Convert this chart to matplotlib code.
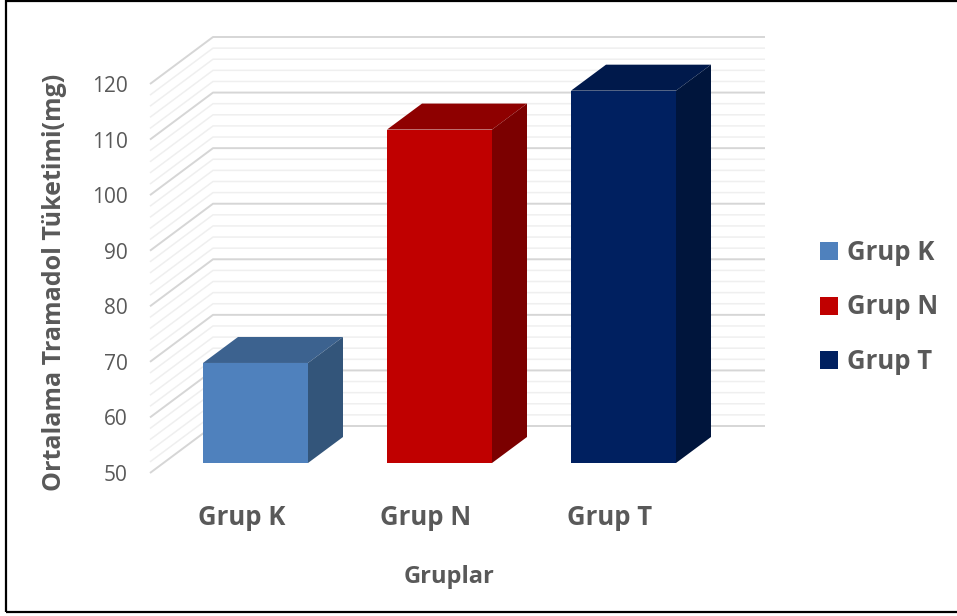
import numpy as np
import matplotlib.pyplot as plt
from matplotlib.patches import Polygon, Rectangle, Patch

plt.rcParams['font.family'] = ['Open Sans', 'DejaVu Sans']

## data
groups = ['Grup K', 'Grup N', 'Grup T']
tramadol = [68, 110, 117]
yticks = [50, 60, 70, 80, 90, 100, 110, 120]

## colours (front, top, side)
front_c = ['#4F81BD', '#C00000', '#002060']
top_c = ['#3C628F', '#8E0000', '#00194B']
side_c = ['#33557A', '#7B0000', '#00153C']
text_c = '#595959'

W, H = 957, 616
fig = plt.figure(figsize=(W / 100, H / 100), dpi=100)
ax_l, ax_r, ax_b, ax_t = 150, 702, 473, 84
ax = fig.add_axes([ax_l / W, (H - ax_b) / H, (ax_r - ax_l) / W, (ax_b - ax_t) / H])
ax.set_xlim(-0.5, 2.5)
ax.set_ylim(50, 120)

# pixel -> data units, used for the fake 3d depth
px_x = 3 / (ax_r - ax_l)
px_y = 70 / (ax_b - ax_t)
wall_dx, wall_dy = 63 * px_x, 47 * px_y
bar_fx, bar_fy = 13.5 * px_x, 10 * px_y
bar_dx, bar_dy = 35 * px_x, 26 * px_y
bar_w = 105 * px_x

# side wall + back wall gridlines, every 2 units
for v in range(50, 121, 2):
    major = v % 10 == 0
    col = '#D6D6D6' if major else '#EFEFEF'
    lw = 1.4 if major else 1.1
    ax.plot([-0.5, -0.5 + wall_dx, 2.5 + wall_dx], [v, v + wall_dy, v + wall_dy],
            color=col, lw=lw, clip_on=False, zorder=1 if not major else 1.5,
            solid_capstyle='butt')

# bars: front face, top and side
xs = np.arange(len(groups)) + bar_fx
base = 50 + bar_fy
for i, val in enumerate(tramadol):
    top = val + bar_fy
    ax.bar(xs[i], val - 50, bottom=base, width=bar_w, color=front_c[i],
           zorder=3, clip_on=False, label=groups[i])
    xl, xr = xs[i] - bar_w / 2, xs[i] + bar_w / 2
    ax.add_patch(Polygon([(xl, top), (xr, top), (xr + bar_dx, top + bar_dy),
                          (xl + bar_dx, top + bar_dy)], closed=True,
                         facecolor=top_c[i], edgecolor='none', zorder=3, clip_on=False))
    ax.add_patch(Polygon([(xr, base), (xr + bar_dx, base + bar_dy),
                          (xr + bar_dx, top + bar_dy), (xr, top)], closed=True,
                         facecolor=side_c[i], edgecolor='none', zorder=3, clip_on=False))

for s in ax.spines.values():
    s.set_visible(False)
ax.set_yticks(yticks)
ax.set_yticklabels([str(t) for t in yticks], fontsize=15, color=text_c)
ax.set_xticks(range(len(groups)))
ax.set_xticklabels(groups, fontsize=18.5, fontweight='bold', color=text_c)
ax.tick_params(axis='y', length=0, pad=16)
ax.tick_params(axis='x', length=0, pad=22)

fig.text(55 / W, 1 - 282 / H, 'Ortalama Tramadol Tüketimi(mg)', rotation=90,
         ha='center', va='center', fontsize=18, fontweight='bold', color=text_c)
fig.text(449 / W, 1 - 577 / H, 'Gruplar', ha='center', va='center',
         fontsize=17, fontweight='bold', color=text_c)

handles = [Patch(facecolor=c) for c in front_c]
leg = fig.legend(handles, groups, loc='center left', bbox_to_anchor=(797 / W, 1 - 307 / H),
                 frameon=False, fontsize=18.5, handlelength=0.7, handleheight=0.7,
                 handletextpad=0.35, labelspacing=1.07)
for t in leg.get_texts():
    t.set_fontweight('bold')
    t.set_color(text_c)

# outer frame (right edge runs off the canvas)
fig.patches.append(Rectangle((6 / W, 4 / H), 960 / W, 611 / H, transform=fig.transFigure,
                             fill=False, edgecolor='black', lw=1.6))

fig.savefig('out.png', dpi=100)
